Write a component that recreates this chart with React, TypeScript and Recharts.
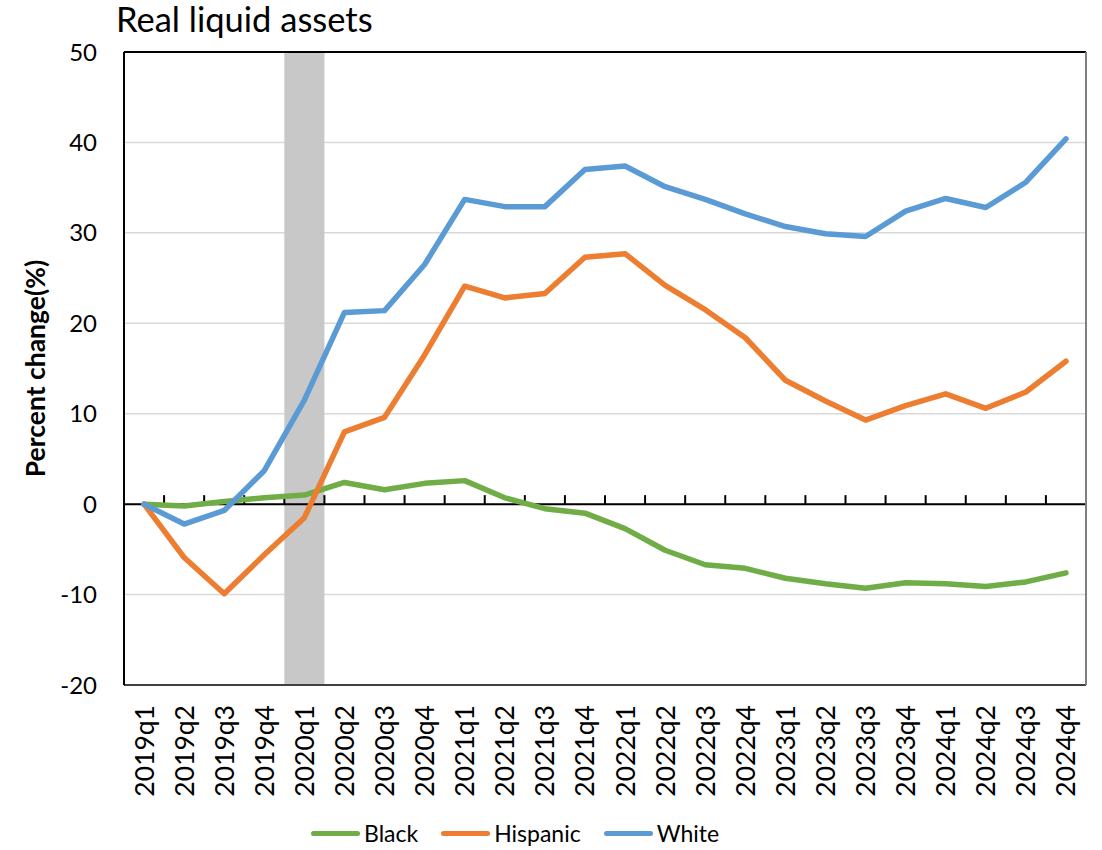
import React from "react";
import {
  LineChart,
  Line,
  XAxis,
  YAxis,
  CartesianGrid,
  ReferenceArea,
  ReferenceLine,
  Legend,
} from "recharts";

const quarters = [
  "2019q1", "2019q2", "2019q3", "2019q4",
  "2020q1", "2020q2", "2020q3", "2020q4",
  "2021q1", "2021q2", "2021q3", "2021q4",
  "2022q1", "2022q2", "2022q3", "2022q4",
  "2023q1", "2023q2", "2023q3", "2023q4",
  "2024q1", "2024q2", "2024q3", "2024q4",
];

const black = [
  0, -0.2, 0.3, 0.7, 1.0, 2.4, 1.6, 2.3, 2.6, 0.7, -0.5, -1.0,
  -2.7, -5.1, -6.7, -7.1, -8.2, -8.8, -9.3, -8.7, -8.8, -9.1, -8.6, -7.6,
];
const hispanic = [
  0, -5.9, -9.9, -5.6, -1.5, 8.0, 9.6, 16.5, 24.1, 22.8, 23.3, 27.3,
  27.7, 24.2, 21.5, 18.4, 13.7, 11.4, 9.3, 10.9, 12.2, 10.6, 12.4, 15.8,
];
const white = [
  0, -2.2, -0.7, 3.7, 11.5, 21.2, 21.4, 26.5, 33.7, 32.9, 32.9, 37.0,
  37.4, 35.1, 33.7, 32.1, 30.7, 29.9, 29.6, 32.4, 33.8, 32.8, 35.6, 40.4,
];

const yTicks = [-20, -10, 0, 10, 20, 30, 40, 50];
const recessionQuarter = "2020q1";

const series = [
  { key: "black", name: "Black", color: "#70AD47" },
  { key: "hispanic", name: "Hispanic", color: "#ED7D31" },
  { key: "white", name: "White", color: "#5B9BD5" },
];

const rows = quarters.map((q, i) => ({
  q,
  black: black[i],
  hispanic: hispanic[i],
  white: white[i],
}));

const FONT = "Lato, 'Noto Sans', sans-serif";

const XTick = (props: any) => {
  const { x, y, payload } = props;
  return (
    <text
      x={x}
      y={y}
      transform={`rotate(-90 ${x} ${y})`}
      textAnchor="end"
      dy="0.36em"
      fontSize={26.5}
      fontFamily={FONT}
      fill="#000"
    >
      {payload.value}
    </text>
  );
};

// zero line with small tick marks between quarters
const ZeroLine = (props: any) => {
  const { x1, x2, y1 } = props;
  const step = (x2 - x1) / quarters.length;
  return (
    <g>
      <line x1={x1} x2={x2} y1={y1} y2={y1} stroke="#000" strokeWidth={2} />
      {quarters.slice(1).map((_, i) => (
        <line
          key={i}
          x1={x1 + step * (i + 1)}
          x2={x1 + step * (i + 1)}
          y1={y1}
          y2={y1 - 9}
          stroke="#000"
          strokeWidth={2}
        />
      ))}
    </g>
  );
};

const YLabel = (props: any) => {
  const vb = props.viewBox || { x: 0, y: 52, height: 633 };
  const cx = vb.x + 35;
  const cy = vb.y + vb.height / 2;
  return (
    <text
      x={cx}
      y={cy}
      transform={`rotate(-90 ${cx} ${cy})`}
      textAnchor="middle"
      dominantBaseline="central"
      fontSize={26.5}
      fontWeight="bold"
      fontFamily={FONT}
      fill="#000"
    >
      Percent change(%)
    </text>
  );
};

const renderLegend = () => (
  <div
    style={{
      height: 34,
      display: "flex",
      alignItems: "center",
      paddingLeft: 311,
      fontFamily: FONT,
      fontSize: 23,
      color: "#000",
    }}
  >
    {series.map((s) => (
      <div key={s.key} style={{ display: "flex", alignItems: "center", marginRight: 23 }}>
        <div
          style={{ width: 49, height: 5, borderRadius: 3, background: s.color, marginRight: 4 }}
        />
        <span>{s.name}</span>
      </div>
    ))}
  </div>
);

export default function App() {
  return (
    <div style={{ position: "absolute", left: 0, top: 0, width: 1102, height: 850, background: "#fff" }}>
      <div
        style={{
          position: "absolute",
          left: 116,
          top: 1,
          fontFamily: FONT,
          fontSize: 34.5,
          lineHeight: "36px",
          color: "#000",
          zIndex: 2,
        }}
      >
        Real liquid assets
      </div>
      <LineChart
        width={1102}
        height={850}
        data={rows}
        margin={{ top: 52, right: 0, bottom: 0, left: 0 }}
      >
        <CartesianGrid vertical={false} stroke="#d9d9d9" strokeWidth={1.5} />
        <ReferenceArea
          x1={recessionQuarter}
          x2={recessionQuarter}
          y1={-20}
          y2={50}
          fill="#c8c8c8"
          fillOpacity={1}
          stroke="none"
        />
        <XAxis
          dataKey="q"
          scale="band"
          interval={0}
          height={131}
          tickSize={0}
          tickMargin={20}
          tickLine={false}
          tick={<XTick />}
          axisLine={{ stroke: "#404040", strokeWidth: 2 }}
        />
        <YAxis
          width={124}
          domain={[-20, 50]}
          ticks={yTicks}
          interval={0}
          tickSize={0}
          tickMargin={27}
          tickLine={false}
          axisLine={{ stroke: "#000", strokeWidth: 2 }}
          tick={{ fontSize: 24, fontFamily: FONT, fill: "#000" }}
          label={<YLabel />}
        />
        <YAxis
          yAxisId="r"
          orientation="right"
          width={16}
          domain={[0, 1]}
          tick={false}
          tickLine={false}
          axisLine={{ stroke: "#7f7f7f", strokeWidth: 2 }}
        />
        <ReferenceLine y={50} stroke="#000" strokeWidth={2} />
        <ReferenceLine y={0} shape={<ZeroLine />} />
        {series.map((s) => (
          <Line
            key={s.key}
            type="linear"
            dataKey={s.key}
            name={s.name}
            stroke={s.color}
            strokeWidth={5.5}
            strokeLinecap="round"
            strokeLinejoin="round"
            dot={false}
            activeDot={false}
            isAnimationActive={false}
          />
        ))}
        <Legend verticalAlign="bottom" content={renderLegend} />
      </LineChart>
    </div>
  );
}
